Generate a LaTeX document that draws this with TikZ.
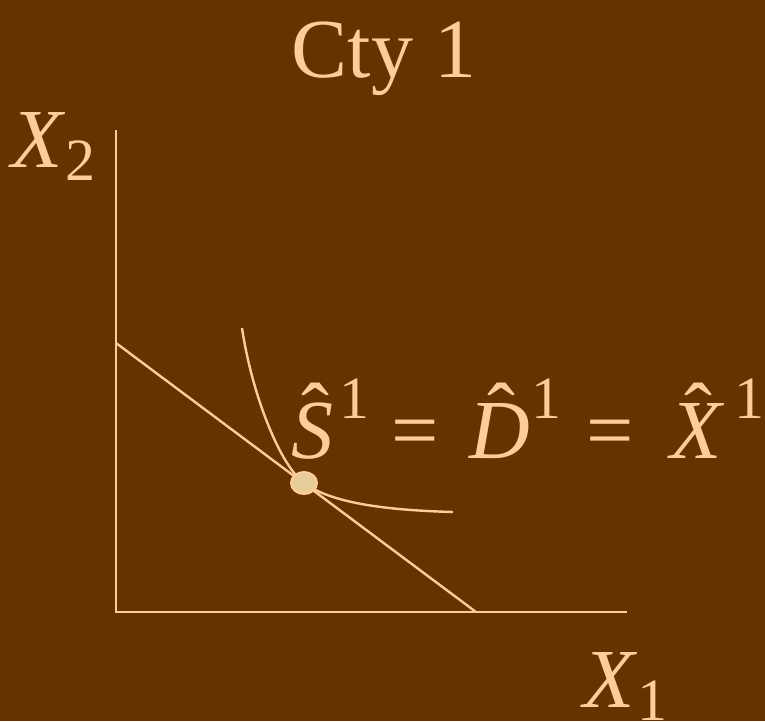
\documentclass[tikz,border=0pt]{standalone}
\usepackage{fontspec}
\setmainfont{Liberation Serif}[
  UprightFont=*,ItalicFont=* Italic,BoldFont=* Bold]
\usetikzlibrary{shapes.geometric}
\definecolor{bgbrown}{RGB}{102,51,0}
\definecolor{peach}{RGB}{255,204,153}
\definecolor{tan}{RGB}{230,204,153}
\newcommand{\bigtxt}{\fontsize{84}{90}\selectfont}
\newcommand{\smalltxt}{\fontsize{60}{60}\selectfont}
\newcommand{\subfig}[1]{\raisebox{-13pt}{\smalltxt #1}}
\newcommand{\hatlet}[2]{\rlap{\hspace{#1}\raisebox{0.2em}{\upshape ˆ}}\textit{#2}}

\begin{document}
\begin{tikzpicture}[x=1pt,y=-1pt,line width=2.4pt,
  lbl/.style={text=peach,inner sep=0pt,anchor=base west,font=\bigtxt},
  sup/.style={lbl,font=\smalltxt}]
  \fill[bgbrown](0,0)rectangle(765,721);
  \useasboundingbox(0,0)rectangle(765,721);
  % axes
  \coordinate (top) at (116,130);
  \coordinate (o) at (116,612);
  \coordinate (right) at (627,612);
  \draw[peach](top)--(o)--(right);
  % budget line
  \coordinate (b1) at (116,343);
  \coordinate (b2) at (476,612);
  \draw[peach](b1)--(b2);
  % indifference curve
  \coordinate (ic1) at (242,328);
  \coordinate (e) at (304,483);
  \coordinate (ic2) at (453,512);
  \draw[peach](ic1) .. controls (252,395) and (280,465) .. (e)
    .. controls (330,502) and (380,510) .. (ic2);
  \node[draw=peach,fill=tan,ellipse,minimum width=26pt,minimum height=22pt,
    inner sep=0pt,line width=2pt](pt) at (e) {};
  % labels
  \node[lbl,anchor=base](title) at (384,77) {Cty 1};
  \node[lbl](xtwo) at (10,167) {\textit{X}\subfig{2}};
  \node[lbl](xone) at (582,707) {\textit{X}\subfig{1}};
  % S = D = X
  \node[lbl](shat) at (290,458) {\hatlet{10pt}{S}};
  \node[sup](ssup) at (338,418) {1};
  \node[lbl](eqa) at (390,458) {=};
  \node[lbl](dhat) at (468,458) {\hatlet{18pt}{D}};
  \node[sup](dsup) at (530,418) {1};
  \node[lbl](eqb) at (585,458) {=};
  \node[lbl](xhat) at (669,458) {\hatlet{14pt}{X}};
  \node[sup](xsup) at (733,418) {1};
\end{tikzpicture}
\end{document}
